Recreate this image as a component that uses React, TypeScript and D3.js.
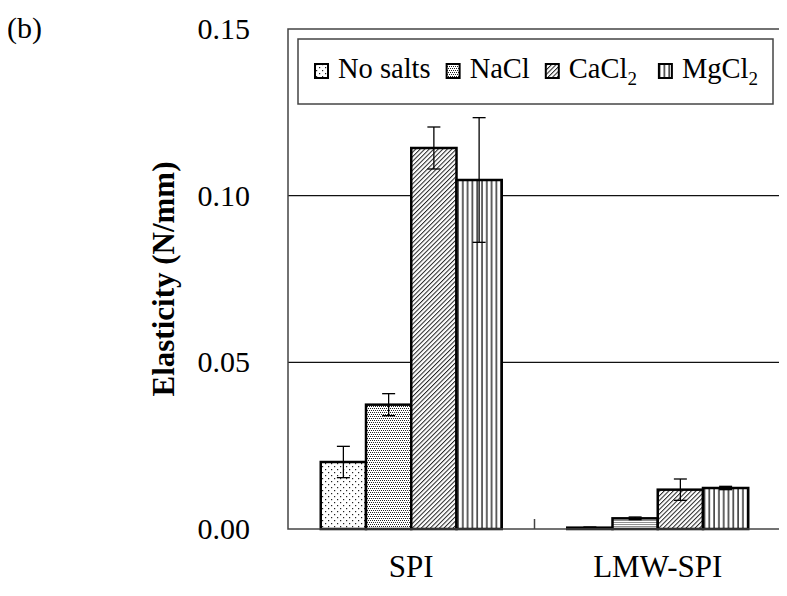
import React, { useEffect, useRef } from 'react';
import * as d3 from 'd3';

// categories and series
const categories = ['SPI', 'LMW-SPI'];
const seriesNames = ['No salts', 'NaCl', 'CaCl', 'MgCl'];
const seriesSubs = ['', '', '2', '2'];
const seriesPatterns = ['pDots', 'pDense', 'pDiag', 'pVert'];

// values (N/mm)
const noSaltsValues = [0.0201, 0.0004];
const naclValues = [0.0373, 0.0032];
const cacl2Values = [0.1143, 0.0118];
const mgcl2Values = [0.1047, 0.0123];

const noSaltsErrors = [0.0047, 0.0002];
const naclErrors = [0.0033, 0.0004];
const cacl2Errors = [0.0063, 0.0032];
const mgcl2Errors = [0.0187, 0.0005];

const yTicks = [0, 0.05, 0.1, 0.15];
const yTickLabels = ['0.00', '0.05', '0.10', '0.15'];

const allValues = [noSaltsValues, naclValues, cacl2Values, mgcl2Values];
const allErrors = [noSaltsErrors, naclErrors, cacl2Errors, mgcl2Errors];

const FONT = "'Liberation Serif', 'Times New Roman', serif";

const Chart = () => {
  const ref = useRef<SVGSVGElement>(null);

  useEffect(() => {
    const svg = d3.select(ref.current);
    svg.selectAll('*').remove();

    const left = 288;
    const right = 781;
    const top = 29;
    const bottom = 529;

    const x0 = d3.scaleBand().domain(categories).range([left, right]).padding(0);
    const x1 = d3
      .scaleBand()
      .domain(seriesNames)
      .range([0, x0.bandwidth()])
      .paddingInner(0)
      .paddingOuter(0.724);
    const y = d3.scaleLinear().domain([0, 0.15]).range([bottom, top]);

    // patterns
    const defs = svg.append('defs');
    const dots = defs
      .append('pattern')
      .attr('id', 'pDots')
      .attr('patternUnits', 'userSpaceOnUse')
      .attr('width', 6)
      .attr('height', 6);
    dots.append('rect').attr('width', 6).attr('height', 6).attr('fill', '#fff');
    dots.append('rect').attr('x', 1).attr('y', 1).attr('width', 1.2).attr('height', 1.2).attr('fill', '#222');
    dots.append('rect').attr('x', 4).attr('y', 4).attr('width', 1.2).attr('height', 1.2).attr('fill', '#222');

    const dense = defs
      .append('pattern')
      .attr('id', 'pDense')
      .attr('patternUnits', 'userSpaceOnUse')
      .attr('width', 4)
      .attr('height', 4);
    dense.append('rect').attr('width', 4).attr('height', 4).attr('fill', '#fff');
    [[0, 0], [2, 0], [1, 2], [3, 2]].forEach(([px, py]) => {
      dense.append('rect').attr('x', px).attr('y', py).attr('width', 1).attr('height', 1).attr('fill', '#222');
    });

    const diag = defs
      .append('pattern')
      .attr('id', 'pDiag')
      .attr('patternUnits', 'userSpaceOnUse')
      .attr('width', 3.2)
      .attr('height', 10)
      .attr('patternTransform', 'rotate(45)');
    diag.append('rect').attr('width', 3.2).attr('height', 10).attr('fill', '#fff');
    diag.append('line').attr('x1', 0.5).attr('x2', 0.5).attr('y1', 0).attr('y2', 10)
      .attr('stroke', '#222').attr('stroke-width', 1);

    const vert = defs
      .append('pattern')
      .attr('id', 'pVert')
      .attr('patternUnits', 'userSpaceOnUse')
      .attr('width', 4.8)
      .attr('height', 10);
    vert.append('rect').attr('width', 4.8).attr('height', 10).attr('fill', '#fff');
    vert.append('line').attr('x1', 2).attr('x2', 2).attr('y1', 0).attr('y2', 10)
      .attr('stroke', '#111').attr('stroke-width', 1.3);

    // gridlines
    svg
      .append('g')
      .selectAll('line')
      .data(yTicks.filter((t) => t > 0 && t < 0.15))
      .enter()
      .append('line')
      .attr('x1', left)
      .attr('x2', right)
      .attr('y1', (d) => y(d))
      .attr('y2', (d) => y(d))
      .attr('stroke', '#111')
      .attr('stroke-width', 1.2);

    // bars
    const groups = svg
      .append('g')
      .selectAll('g')
      .data(categories)
      .enter()
      .append('g')
      .attr('transform', (d) => `translate(${x0(d)},0)`);

    groups.each(function (cat, ci) {
      const g = d3.select(this);
      seriesNames.forEach((s, si) => {
        const v = allValues[si][ci];
        g.append('rect')
          .attr('x', x1(s)!)
          .attr('y', y(v))
          .attr('width', x1.bandwidth())
          .attr('height', bottom - y(v))
          .attr('fill', `url(#${seriesPatterns[si]})`)
          .attr('stroke', '#000')
          .attr('stroke-width', 2.5);
      });
    });

    // error bars
    groups.each(function (cat, ci) {
      const g = d3.select(this);
      seriesNames.forEach((s, si) => {
        const v = allValues[si][ci];
        const e = allErrors[si][ci];
        const cx = x1(s)! + x1.bandwidth() / 2;
        const eb = g.append('g').attr('stroke', '#000').attr('stroke-width', 1.3);
        eb.append('line').attr('x1', cx).attr('x2', cx).attr('y1', y(v - e)).attr('y2', y(v + e));
        eb.append('line').attr('x1', cx - 6.5).attr('x2', cx + 6.5).attr('y1', y(v + e)).attr('y2', y(v + e));
        eb.append('line').attr('x1', cx - 6.5).attr('x2', cx + 6.5).attr('y1', y(v - e)).attr('y2', y(v - e));
      });
    });

    // frame
    svg
      .append('rect')
      .attr('x', left)
      .attr('y', top)
      .attr('width', right - left)
      .attr('height', bottom - top)
      .attr('fill', 'none')
      .attr('stroke', '#444')
      .attr('stroke-width', 1.5);

    // category tick between groups
    const midX = left + x0.bandwidth();
    svg
      .append('line')
      .attr('x1', midX)
      .attr('x2', midX)
      .attr('y1', bottom)
      .attr('y2', bottom - 10)
      .attr('stroke', '#444')
      .attr('stroke-width', 1.5);

    // y tick labels
    svg
      .append('g')
      .selectAll('text')
      .data(yTicks)
      .enter()
      .append('text')
      .attr('x', 250)
      .attr('y', (d) => y(d) + 10)
      .attr('text-anchor', 'end')
      .attr('font-family', FONT)
      .attr('font-size', 30)
      .text((d, i) => yTickLabels[i]);

    // category labels
    svg
      .append('g')
      .selectAll('text')
      .data(categories)
      .enter()
      .append('text')
      .attr('x', (d) => x0(d)! + x0.bandwidth() / 2)
      .attr('y', 577)
      .attr('text-anchor', 'middle')
      .attr('font-family', FONT)
      .attr('font-size', 31)
      .text((d) => d);

    // y axis title
    svg
      .append('text')
      .attr('transform', `translate(174,${(top + bottom) / 2}) rotate(-90)`)
      .attr('text-anchor', 'middle')
      .attr('font-family', FONT)
      .attr('font-weight', 'bold')
      .attr('font-size', 31)
      .text('Elasticity (N/mm)');

    // panel label
    svg
      .append('text')
      .attr('x', 7)
      .attr('y', 38)
      .attr('font-family', FONT)
      .attr('font-size', 30)
      .text('(b)');

    // legend
    svg
      .append('rect')
      .attr('x', 298)
      .attr('y', 39)
      .attr('width', 773 - 298)
      .attr('height', 104 - 39)
      .attr('fill', '#fff')
      .attr('stroke', '#444')
      .attr('stroke-width', 1.5);

    let lx = 315;
    seriesNames.forEach((s, si) => {
      svg
        .append('rect')
        .attr('x', lx)
        .attr('y', 64)
        .attr('width', 13)
        .attr('height', 14)
        .attr('fill', `url(#${seriesPatterns[si]})`)
        .attr('stroke', '#000')
        .attr('stroke-width', 2);
      const t = svg
        .append('text')
        .attr('x', lx + 23)
        .attr('y', 78)
        .attr('font-family', FONT)
        .attr('font-size', 28.5)
        .text(s);
      if (seriesSubs[si]) {
        t.append('tspan').attr('dy', 7).attr('font-size', 19).text(seriesSubs[si]);
      }
      const w = (t.node() as SVGTextElement).getComputedTextLength();
      lx = lx + 23 + w + (seriesSubs[si] ? 22 : 16);
    });
  }, []);

  return <svg ref={ref} width={787} height={596} style={{ display: 'block' }} />;
};

const App = () => (
  <div style={{ margin: -8 }}>
    <Chart />
  </div>
);

export default App;
